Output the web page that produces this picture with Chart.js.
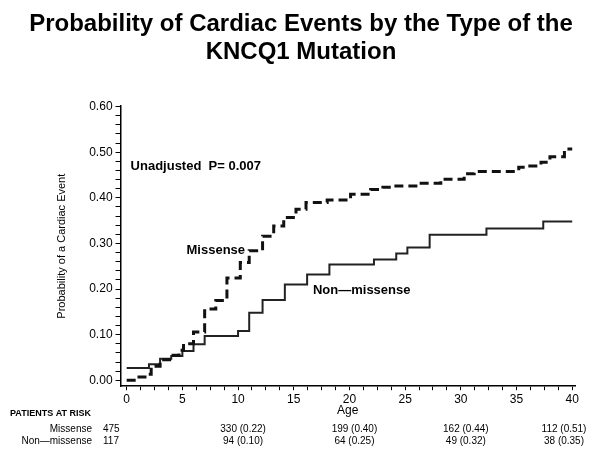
<!DOCTYPE html>
<html>
<head>
<meta charset="utf-8">
<script src="https://cdn.jsdelivr.net/npm/chart.js@4"></script>
<style>
  html, body { margin: 0; padding: 0; background: #fff; }
  #wrap { width: 600px; height: 462px; position: relative; }
</style>
</head>
<body>
<div id="wrap"><canvas id="km-chart"></canvas></div>
<script>
// Kaplan-Meier style step data
const missenseAges = [0, 0.9, 1.8, 2.2, 3, 4, 4.7, 5.1, 6, 7, 8, 9, 10.2, 11, 12.2, 13.2, 14.1, 15.2, 16.1, 18, 20.1, 21.9, 23, 24, 26.2, 28.2, 30.3, 31.2, 35.2, 36, 37.2, 38, 39.3, 40];
const missenseProb = [0, 0.007, 0.013, 0.031, 0.045, 0.055, 0.066, 0.08, 0.106, 0.156, 0.175, 0.224, 0.258, 0.284, 0.316, 0.338, 0.357, 0.375, 0.39, 0.395, 0.408, 0.418, 0.423, 0.426, 0.432, 0.441, 0.453, 0.458, 0.467, 0.47, 0.478, 0.49, 0.507, 0.507];

const nonMissenseAges = [0, 2, 3, 4, 5, 6, 7, 10, 11, 12.2, 14.2, 16.2, 18.2, 22.2, 24.2, 25.2, 27.2, 32.3, 37.4, 40];
const nonMissenseProb = [0.027, 0.035, 0.047, 0.053, 0.064, 0.079, 0.097, 0.108, 0.148, 0.176, 0.21, 0.232, 0.254, 0.265, 0.278, 0.291, 0.319, 0.333, 0.348, 0.348];

// patients at risk table
const riskAges = [0, 10, 20, 30, 40];
const missenseRisk = ['475', '330 (0.22)', '199 (0.40)', '162 (0.44)', '112 (0.51)'];
const nonMissenseRisk = ['117', '94 (0.10)', '64 (0.25)', '49 (0.32)', '38 (0.35)'];

const FONT = "'Liberation Sans', Arial, Helvetica, sans-serif";

function toPoints(xs, ys) {
    return xs.map((x, i) => ({ x: x, y: ys[i] }));
}

// text placed in data coordinates
const notes = [
    { text: 'Unadjusted  P= 0.007', age: 0.35, prob: 0.469, align: 'left' },
    { text: 'Missense', age: 8.0, prob: 0.284, align: 'center' },
    { text: 'Non\u2014missense', age: 21.1, prob: 0.196, align: 'center' }
];

const annotatePlugin = {
    id: 'annotate',
    afterDraw(chart) {
        const ctx = chart.ctx;
        const xs = chart.scales.x;
        const ys = chart.scales.y;
        ctx.save();
        ctx.fillStyle = '#000';
        ctx.textBaseline = 'middle';
        ctx.font = 'bold 13px ' + FONT;
        notes.forEach(n => {
            ctx.textAlign = n.align;
            ctx.fillText(n.text, xs.getPixelForValue(n.age), ys.getPixelForValue(n.prob));
        });

        // at risk table
        ctx.font = 'bold 9px ' + FONT;
        ctx.textAlign = 'left';
        ctx.fillText('PATIENTS AT RISK', 10, 414);
        ctx.font = '10px ' + FONT;
        ctx.textAlign = 'right';
        ctx.fillText('Missense', 92, 429);
        ctx.fillText('Non\u2014missense', 92, 441);
        riskAges.forEach((age, i) => {
            let px = xs.getPixelForValue(age);
            if (i === 0) {
                ctx.textAlign = 'left';
                px = 103;
            } else {
                ctx.textAlign = 'center';
                px = Math.min(px + 5, 564);
            }
            ctx.fillText(missenseRisk[i], px, 429);
            ctx.fillText(nonMissenseRisk[i], px, 441);
        });
        ctx.restore();
    }
};

const xTickValues = [];
for (let i = 0; i <= 32; i++) xTickValues.push(i * 1.25);
const yTickValues = [];
for (let i = 0; i <= 30; i++) yTickValues.push(Math.round(i * 2) / 100);

const ctx = document.getElementById('km-chart');
new Chart(ctx, {
    type: 'line',
    data: {
        datasets: [{
            label: 'Missense',
            data: toPoints(missenseAges, missenseProb),
            stepped: 'before',
            borderColor: '#111',
            borderWidth: 3,
            borderDash: [9, 5],
            pointRadius: 0,
            fill: false
        }, {
            label: 'Non-missense',
            data: toPoints(nonMissenseAges, nonMissenseProb),
            stepped: 'before',
            borderColor: '#222',
            borderWidth: 2,
            pointRadius: 0,
            fill: false
        }]
    },
    options: {
        responsive: true,
        maintainAspectRatio: false,
        animation: false,
        layout: {
            padding: { left: 13, right: 11, top: 0, bottom: 44 }
        },
        plugins: {
            legend: { display: false },
            tooltip: { enabled: false },
            title: {
                display: true,
                text: ['Probability of Cardiac Events by the Type of the', 'KNCQ1 Mutation'],
                color: '#000',
                font: { family: FONT, size: 24, weight: 'bold', lineHeight: 1.17 },
                padding: { top: 10, bottom: 40 }
            }
        },
        scales: {
            x: {
                type: 'linear',
                min: -0.55,
                max: 40.25,
                afterBuildTicks: (scale) => {
                    scale.ticks = xTickValues.map(v => ({ value: v }));
                },
                afterFit: (scale) => {
                    scale.paddingRight = 25;
                },
                ticks: {
                    autoSkip: false,
                    maxRotation: 0,
                    padding: 2,
                    color: '#000',
                    font: { family: FONT, size: 12 },
                    callback: (v) => (v % 5 === 0 ? String(v) : '')
                },
                grid: {
                    drawOnChartArea: false,
                    drawTicks: true,
                    tickLength: 4,
                    tickColor: '#000'
                },
                border: { color: '#000', width: 1.5 },
                title: {
                    display: true,
                    text: 'Age',
                    color: '#000',
                    font: { family: FONT, size: 12 },
                    padding: { top: -5, bottom: 0 }
                }
            },
            y: {
                type: 'linear',
                min: -0.013,
                max: 0.601,
                afterBuildTicks: (scale) => {
                    scale.ticks = yTickValues.map(v => ({ value: v }));
                },
                ticks: {
                    autoSkip: false,
                    padding: 3,
                    color: '#000',
                    font: { family: FONT, size: 12 },
                    callback: (v) => {
                        const k = Math.round(v * 100);
                        return k % 10 === 0 ? (k / 100).toFixed(2) : '';
                    }
                },
                grid: {
                    drawOnChartArea: false,
                    drawTicks: true,
                    tickLength: 5,
                    tickColor: '#000'
                },
                border: { color: '#000', width: 1.5 },
                title: {
                    display: true,
                    text: 'Probability of a Cardiac Event',
                    color: '#000',
                    font: { family: FONT, size: 11 },
                    padding: { top: 42, bottom: 18 }
                }
            }
        }
    },
    plugins: [annotatePlugin]
});
</script>
</body>
</html>
